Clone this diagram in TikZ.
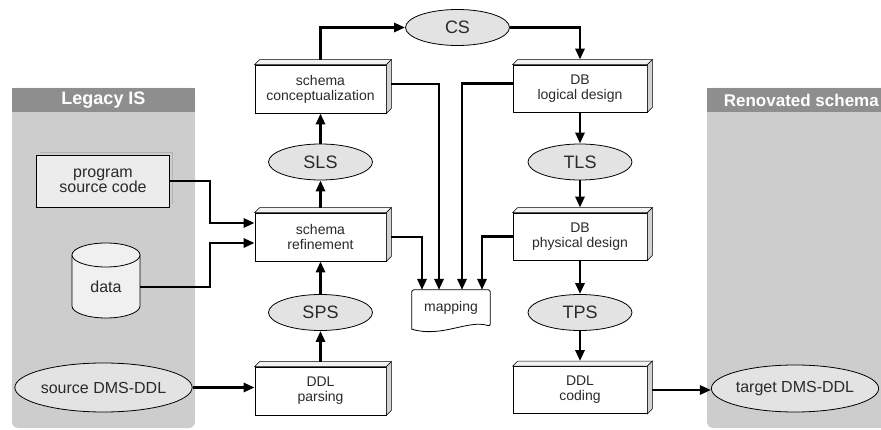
\documentclass[tikz,border=0pt]{standalone}
\usepackage{fontspec}
\setmainfont{Liberation Sans}
\usetikzlibrary{arrows.meta,calc,backgrounds,shapes.geometric}
\definecolor{panelgray}{HTML}{CDCDCD}
\definecolor{headgray}{HTML}{8E8E8E}
\definecolor{blobgray}{HTML}{E3E3E3}
\definecolor{inkgray}{HTML}{2A2A2A}
\begin{document}
\begin{tikzpicture}[x=1pt,y=-1pt,
  prism/.style={draw, line width=0.8pt, fill=white, align=center, text=inkgray,
    font=\fontsize{14}{15}\selectfont, inner sep=0pt},
  boxA/.style={prism, minimum width=131, minimum height=48},
  boxB/.style={prism, minimum width=134, minimum height=47},
  blob/.style={ellipse, draw, line width=0.8pt, fill=blobgray, inner sep=0pt, text=inkgray,
    font=\fontsize{18}{20}\selectfont, minimum width=104, minimum height=36},
  bigblob/.style={blob, font=\fontsize{16}{18}\selectfont},
  header/.style={text=white, font=\bfseries\fontsize{18}{18}\selectfont, inner sep=0pt},
  conn/.style={line width=2.7pt, -{Triangle[length=11pt,width=9pt]}},
  face/.style={line width=0.6pt}]
\useasboundingbox (0,0) rectangle (881,430);

% side panels
\fill[panelgray, rounded corners=6pt] (12,88) rectangle (195,428);
\fill[headgray] (12,88) rectangle (195,112);
\node[header] (lh) at (103.5,100) {Legacy IS};
\fill[panelgray, rounded corners=6pt] (707,88) rectangle (900,428);
\fill[headgray] (707,88) rectangle (900,112);
\node[header, anchor=east, font=\bfseries\fontsize{17}{17}\selectfont] (rh) at (879,100) {Renovated schema};

% legacy sources
\draw[gray!60, line width=0.6pt] (40,152) -- (172,152) -- (172,204);
\node[draw, line width=0.9pt, fill=gray!15, minimum width=133, minimum height=52,
  align=center, text=inkgray, font=\fontsize{16}{15}\selectfont] (psc) at (103,181) {program\\source code};

\fill[gray!12] (72,255) -- (72,306) arc[start angle=180, end angle=0, x radius=34, y radius=12] -- (140,255) -- cycle;
\draw[line width=0.8pt] (72,255) -- (72,306) arc[start angle=180, end angle=0, x radius=34, y radius=12] -- (140,255);
\draw[line width=0.8pt, fill=gray!12] (106,255) ellipse[x radius=34, y radius=12];
\node[minimum width=68, minimum height=20, inner sep=0pt, text=inkgray,
  font=\fontsize{16}{18}\selectfont] (data) at (106,287) {data};

\node[bigblob, minimum width=173, minimum height=49] (src) at (103.5,387.5) {source DMS-DDL};
\node[bigblob, minimum width=164, minimum height=47] (tgt) at (795,388.5) {target DMS-DDL};

% process boxes
\node[boxA] (sc) at (320.5,89) {schema\\conceptualization};
\node[boxA] (sr) at (320.5,237) {schema\\refinement};
\node[boxA] (dp) at (320.5,391) {DDL\\parsing};
\node[boxB] (dl) at (580,88.5) {DB\\logical design};
\node[boxB] (pd) at (580,236.5) {DB\\physical design};
\node[boxB] (dc) at (580,390) {DDL\\coding};

\foreach \n in {sc,sr,dp,dl,pd,dc}{
  \draw[face, fill=gray!10] (\n.north west) -- ++(5,-5) -- ($(\n.north east)+(5,-5)$) -- (\n.north east) -- cycle;
  \draw[face, fill=gray!35] (\n.north east) -- ++(5,-5) -- ($(\n.south east)+(5,-5)$) -- (\n.south east) -- cycle;
}

% intermediate schemas
\node[blob] (cs) at (457.5,27.5) {CS};
\node[blob] (sls) at (320.5,162) {SLS};
\node[blob] (sps) at (320.5,312.5) {SPS};
\node[blob] (tls) at (580,162) {TLS};
\node[blob] (tps) at (580,312.5) {TPS};

% mapping document
\node[minimum width=78, minimum height=36, inner sep=0pt, text=inkgray,
  font=\fontsize{14}{15}\selectfont] (map) at (451,308) {mapping};
\begin{scope}[on background layer]
\draw[line width=0.8pt, fill=white, rounded corners=2pt]
  ($(map.south west)+(0,3)$) -- (map.north west) -- (map.north east) -- (map.south east)
  [sharp corners] .. controls ($(map.south east)+(-22,-7)$) and ($(map.south west)+(30,12)$) .. ($(map.south west)+(0,3)$) -- cycle;
\end{scope}

% connectors
\coordinate (jx) at (210,0);
\coordinate (in1) at ([yshift=14pt]sr.west);
\coordinate (in2) at ([yshift=-6pt]sr.west);
\draw[conn] (psc.east) -| (jx |- in1) -- (in1);
\draw[conn] (data.east) -| (jx |- in2) -- (in2);
\draw[conn] (src.east) -- (src.east -| dp.west);

\draw[conn] ([yshift=5pt]dp.north) -- (sps.south);
\draw[conn] (sps.north) -- (sr.south);
\draw[conn] ([yshift=5pt]sr.north) -- (sls.south);
\draw[conn] (sls.north) -- (sc.south);
\draw[conn] ([yshift=5pt]sc.north) |- (cs.west);
\draw[conn] (cs.east) -| ([yshift=5pt]dl.north);
\draw[conn] (dl.south) -- (tls.north);
\draw[conn] (tls.south) -- ([yshift=5pt]pd.north);
\draw[conn] (pd.south) -- (tps.north);
\draw[conn] (tps.south) -- ([yshift=5pt]dc.north);
\draw[conn] ([xshift=5pt]dc.east) -- (dc.east -| tgt.west);

\coordinate (m1) at (422,290);
\coordinate (m2) at (439,290);
\coordinate (m3) at (462,290);
\coordinate (m4) at (482,290);
\draw[conn] ([shift={(5pt,5pt)}]sc.east) -| (m2);
\draw[conn] ([xshift=5pt]sr.east) -| (m1);
\draw[conn] ([yshift=5pt]dl.west) -| (m3);
\draw[conn] (pd.west) -| (m4);
\end{tikzpicture}
\end{document}
